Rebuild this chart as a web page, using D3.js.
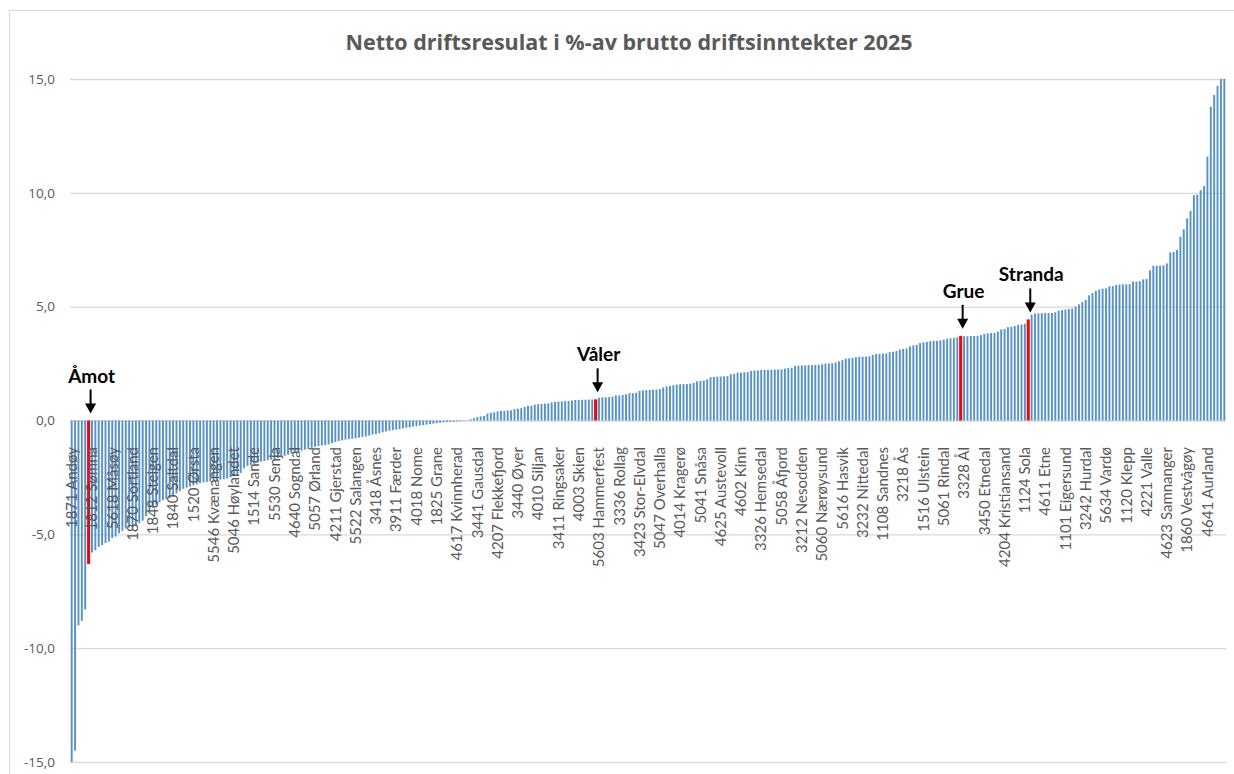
<!DOCTYPE html>
<html>
<head>
  <meta charset="utf-8">
  <title>Netto driftsresultat</title>
  <script src="https://d3js.org/d3.v7.min.js"></script>
  <style>
    body { margin: 0; background: #fff; }
    svg { font-family: Lato, "Open Sans", sans-serif; }
  </style>
</head>
<body>
<script>
// verdier sortert stigende (ca. avlest fra figuren)
var values = [
  -15.8, -14.5, -9.0, -8.8, -8.3, -6.3, -5.8, -5.7, -5.55, -5.47,
  -5.38, -5.32, -5.16, -5.1, -4.95, -4.85, -4.75, -4.7, -4.65, -4.6,
  -4.5, -4.4, -4.2, -4.0, -3.85, -3.7, -3.6, -3.5, -3.45, -3.4,
  -3.35, -3.2, -3.1, -3.0, -2.95, -2.9, -2.85, -2.8, -2.75, -2.72,
  -2.7, -2.68, -2.65, -2.62, -2.6, -2.58, -2.55, -2.5, -2.45, -2.4,
  -2.3, -2.1, -2.0, -1.95, -1.9, -1.85, -1.8, -1.78, -1.75, -1.72,
  -1.7, -1.65, -1.6, -1.55, -1.5, -1.45, -1.4, -1.35, -1.32, -1.28,
  -1.25, -1.2, -1.15, -1.12, -1.1, -1.08, -1.05, -1.0, -0.95, -0.9,
  -0.87, -0.84, -0.82, -0.8, -0.78, -0.75, -0.72, -0.7, -0.66, -0.62,
  -0.6, -0.56, -0.52, -0.48, -0.45, -0.42, -0.4, -0.38, -0.35, -0.32,
  -0.3, -0.27, -0.25, -0.22, -0.2, -0.18, -0.16, -0.14, -0.12, -0.1,
  -0.08, -0.07, -0.06, -0.05, -0.04, -0.03, -0.02, -0.01, 0.05, 0.1,
  0.15, 0.18, 0.2, 0.3, 0.34, 0.36, 0.4, 0.42, 0.43, 0.44,
  0.45, 0.5, 0.52, 0.54, 0.6, 0.64, 0.65, 0.7, 0.72, 0.73,
  0.74, 0.75, 0.8, 0.82, 0.83, 0.84, 0.85, 0.86, 0.88, 0.9,
  0.9, 0.91, 0.91, 0.92, 0.92, 0.93, 1.0, 1.02, 1.02, 1.03,
  1.05, 1.1, 1.1, 1.12, 1.15, 1.2, 1.2, 1.22, 1.3, 1.32,
  1.33, 1.34, 1.35, 1.36, 1.38, 1.45, 1.5, 1.52, 1.55, 1.58,
  1.59, 1.6, 1.6, 1.62, 1.65, 1.72, 1.74, 1.76, 1.8, 1.9,
  1.91, 1.92, 1.93, 1.94, 1.95, 2.03, 2.05, 2.1, 2.1, 2.12,
  2.13, 2.18, 2.2, 2.2, 2.22, 2.22, 2.22, 2.23, 2.23, 2.24,
  2.24, 2.28, 2.3, 2.32, 2.4, 2.41, 2.42, 2.42, 2.43, 2.43,
  2.44, 2.45, 2.47, 2.5, 2.51, 2.52, 2.55, 2.6, 2.65, 2.72,
  2.73, 2.75, 2.78, 2.8, 2.8, 2.81, 2.82, 2.88, 2.92, 2.93,
  2.94, 2.95, 3.0, 3.02, 3.05, 3.12, 3.14, 3.16, 3.25, 3.3,
  3.32, 3.4, 3.43, 3.45, 3.48, 3.5, 3.5, 3.52, 3.55, 3.6,
  3.61, 3.62, 3.65, 3.72, 3.7, 3.7, 3.71, 3.71, 3.72, 3.75,
  3.8, 3.83, 3.84, 3.85, 3.9, 4.0, 4.02, 4.1, 4.12, 4.15,
  4.2, 4.22, 4.25, 4.44, 4.65, 4.7, 4.71, 4.71, 4.72, 4.72,
  4.72, 4.75, 4.82, 4.85, 4.88, 4.9, 4.92, 5.0, 5.1, 5.2,
  5.3, 5.5, 5.6, 5.7, 5.75, 5.79, 5.8, 5.89, 5.9, 5.95,
  5.97, 5.98, 5.98, 5.99, 6.1, 6.1, 6.12, 6.2, 6.22, 6.6,
  6.8, 6.8, 6.8, 6.82, 6.9, 7.38, 7.4, 7.49, 8.07, 8.4,
  8.88, 9.2, 9.9, 9.92, 10.12, 10.3, 11.59, 13.78, 14.3, 14.7,
  15.4, 17.0
];

// kategorinavn som vises (hver 6. kommune)
var tickLabels = [
  "1871 Andøy", "1812 Sømna", "5618 Måsøy", "1870 Sortland", "1848 Steigen", "1840 Saltdal",
  "1520 Ørsta", "5546 Kvænangen", "5046 Høylandet", "1514 Sande", "5530 Senja", "4640 Sogndal",
  "5057 Ørland", "4211 Gjerstad", "5522 Salangen", "3418 Åsnes", "3911 Færder", "4018 Nome",
  "1825 Grane", "4617 Kvinnherad", "3441 Gausdal", "4207 Flekkefjord", "3440 Øyer", "4010 Siljan",
  "3411 Ringsaker", "4003 Skien", "5603 Hammerfest", "3336 Rollag", "3423 Stor-Elvdal", "5047 Overhalla",
  "4014 Kragerø", "5041 Snåsa", "4625 Austevoll", "4602 Kinn", "3326 Hemsedal", "5058 Åfjord",
  "3212 Nesodden", "5060 Nærøysund", "5616 Hasvik", "3232 Nittedal", "1108 Sandnes", "3218 Ås",
  "1516 Ulstein", "5061 Rindal", "3328 Ål", "3450 Etnedal", "4204 Kristiansand", "1124 Sola",
  "4611 Etne", "1101 Eigersund", "3242 Hurdal", "5634 Vardø", "1120 Klepp", "4221 Valle",
  "4623 Samnanger", "1860 Vestvågøy", "4641 Aurland"
];
var labelStep = 6;

// uthevede kommuner og deres plass i rekka
var highlightNames = ["Åmot", "Våler", "Grue", "Stranda"];
var highlightIndex = [5, 155, 263, 283];

var yTicks = [-15, -10, -5, 0, 5, 10, 15];

var width = 1234;
var height = 774;
var margin = { top: 79, right: 8, bottom: 12, left: 70 };

var svg = d3.select("body").append("svg")
  .attr("width", width)
  .attr("height", height);

// ramme rundt diagrammet
svg.append("rect")
  .attr("x", 9.5).attr("y", 10.5)
  .attr("width", width + 20).attr("height", height + 20)
  .attr("fill", "none")
  .attr("stroke", "#d9d9d9");

svg.append("text")
  .attr("x", 629)
  .attr("y", 50)
  .attr("text-anchor", "middle")
  .attr("font-family", "'Open Sans', sans-serif")
  .attr("font-size", "21.5px")
  .attr("font-weight", "bold")
  .attr("fill", "#595959")
  .text("Netto driftsresulat i %-av brutto driftsinntekter 2025");

var xScale = d3.scaleBand()
  .domain(d3.range(values.length))
  .range([margin.left, width - margin.right])
  .padding(0);

var yScale = d3.scaleLinear()
  .domain([-15, 15])
  .range([height - margin.bottom, margin.top]);

var fmt = function(d) { return d3.format(".1f")(d).replace(".", ",").replace("−", "-"); };

// gridlinjer + y-akse
var gy = svg.append("g")
  .attr("transform", "translate(" + margin.left + ",0)")
  .call(d3.axisLeft(yScale).tickValues(yTicks).tickFormat(fmt)
    .tickSize(-(width - margin.left - margin.right)).tickPadding(15));
gy.select(".domain").remove();
gy.selectAll("line").attr("stroke", "#d9d9d9").attr("stroke-width", 1.3);
gy.selectAll("text").attr("fill", "#595959").attr("font-size", "13.5px")
  .attr("font-family", "'Open Sans', sans-serif");

// søyler
svg.append("clipPath").attr("id", "plot")
  .append("rect")
  .attr("x", margin.left).attr("y", margin.top)
  .attr("width", width - margin.left - margin.right)
  .attr("height", height - margin.top - margin.bottom);

var bw = xScale.bandwidth();
var bars = svg.append("g").attr("clip-path", "url(#plot)");

bars.selectAll(".bar")
  .data(values.map(function(v, i) { return { i: i, v: v }; })
    .filter(function(d) { return highlightIndex.indexOf(d.i) < 0; }))
  .enter()
  .append("rect")
  .attr("class", "bar")
  .attr("x", function(d) { return xScale(d.i) + bw * 0.22; })
  .attr("width", bw * 0.56)
  .attr("y", function(d) { return yScale(Math.max(0, d.v)); })
  .attr("height", function(d) { return Math.abs(yScale(d.v) - yScale(0)); })
  .attr("fill", "#5590cf");

bars.selectAll(".hl")
  .data(highlightIndex)
  .enter()
  .append("rect")
  .attr("class", "hl")
  .attr("x", function(i) { return xScale(i) + bw * 0.05; })
  .attr("width", bw * 0.9)
  .attr("y", function(i) { return yScale(Math.max(0, values[i])); })
  .attr("height", function(i) { return Math.abs(yScale(values[i]) - yScale(0)); })
  .attr("fill", "#ff0000");

// x-akse etiketter
var gx = svg.append("g")
  .attr("transform", "translate(0,447)")
  .call(d3.axisBottom(xScale)
    .tickValues(d3.range(0, values.length, labelStep))
    .tickSize(0)
    .tickFormat(function(i) { return tickLabels[i / labelStep]; }));
gx.select(".domain").remove();
gx.selectAll("text")
  .attr("transform", "rotate(-90)")
  .attr("text-anchor", "end")
  .attr("x", 0)
  .attr("y", 0)
  .attr("dy", "0.35em")
  .attr("fill", "#595959")
  .attr("font-size", "15px")
  .attr("font-family", "Lato, sans-serif");

// piler og navn for uthevede kommuner
highlightIndex.forEach(function(i, k) {
  var cx = xScale(i) + bw / 2 + 2;
  var tip = yScale(Math.max(0, values[i])) - 7;
  svg.append("line")
    .attr("x1", cx).attr("x2", cx)
    .attr("y1", tip - 24).attr("y2", tip - 8)
    .attr("stroke", "#000")
    .attr("stroke-width", 2);
  svg.append("path")
    .attr("d", "M" + (cx - 5.5) + "," + (tip - 10) + "L" + (cx + 5.5) + "," + (tip - 10) + "L" + cx + "," + tip + "Z")
    .attr("fill", "#000");
  svg.append("text")
    .attr("x", cx + 1)
    .attr("y", tip - 31)
    .attr("text-anchor", "middle")
    .attr("font-size", "19px")
    .attr("font-weight", "bold")
    .attr("fill", "#000")
    .text(highlightNames[k]);
});
</script>
</body>
</html>
